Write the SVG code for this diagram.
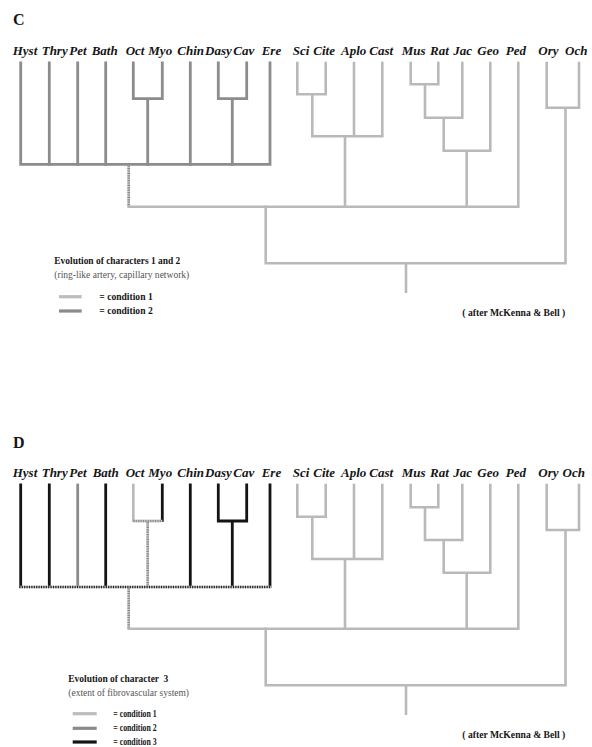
<svg xmlns="http://www.w3.org/2000/svg" width="592" height="747" viewBox="0 0 592 747">
<style>
  .bg{fill:#ffffff}
  .tax{font-family:"Liberation Serif","Times New Roman",serif;font-size:13px;font-weight:bold;font-style:italic;fill:#151515}
  .panel{font-family:"Liberation Serif","Times New Roman",serif;font-size:16px;font-weight:bold;fill:#151515}
  .lgt{font-family:"Liberation Serif","Times New Roman",serif;font-size:9.5px;font-weight:bold;fill:#151515;white-space:pre}
  .lgs{font-family:"Liberation Serif","Times New Roman",serif;font-size:9.5px;fill:#555555}
  .c1{fill:none;stroke:#b9b9b9;stroke-width:2.6;stroke-linejoin:miter;stroke-linecap:square}
  .c2{fill:none;stroke:#8c8c8c;stroke-width:2.8;stroke-linejoin:miter;stroke-linecap:square}
  .c3{fill:none;stroke:#141414;stroke-width:2.8;stroke-linejoin:miter;stroke-linecap:square}
  .hb{fill:none;stroke:#c8c8c8;stroke-width:2.6;stroke-linecap:butt}
  .hd{fill:none;stroke:#8a8a8a;stroke-width:2.6;stroke-dasharray:1.2 1.2;stroke-linecap:butt}
  .hk{fill:none;stroke:#222222;stroke-width:2.6;stroke-dasharray:1.2 1.2;stroke-linecap:butt}
  .key{stroke-width:3.2;stroke-linecap:butt}
</style>
<rect class="bg" x="0" y="0" width="592" height="747"/>

<!-- ===================== PANEL C ===================== -->
<g id="panelC">
  <text id="labelC" class="panel" x="13" y="25">C</text>

  <g id="C-taxa">
    <g id="C-Hyst"><text class="tax" x="12.7" y="55">Hyst</text></g>
    <g id="C-Thry"><text class="tax" x="41.7" y="55">Thry</text></g>
    <g id="C-Pet"><text class="tax" x="69.3" y="55">Pet</text></g>
    <g id="C-Bath"><text class="tax" x="91.7" y="55">Bath</text></g>
    <g id="C-Oct"><text class="tax" x="125.7" y="55">Oct</text></g>
    <g id="C-Myo"><text class="tax" x="148.3" y="55">Myo</text></g>
    <g id="C-Chin"><text class="tax" x="177.3" y="55">Chin</text></g>
    <g id="C-Dasy"><text class="tax" x="205" y="55">Dasy</text></g>
    <g id="C-Cav"><text class="tax" x="233.3" y="55">Cav</text></g>
    <g id="C-Ere"><text class="tax" x="261.7" y="55">Ere</text></g>
    <g id="C-Sci"><text class="tax" x="292.7" y="55">Sci</text></g>
    <g id="C-Cite"><text class="tax" x="313.3" y="55">Cite</text></g>
    <g id="C-Aplo"><text class="tax" x="341" y="55">Aplo</text></g>
    <g id="C-Cast"><text class="tax" x="369.3" y="55">Cast</text></g>
    <g id="C-Mus"><text class="tax" x="401.7" y="55">Mus</text></g>
    <g id="C-Rat"><text class="tax" x="430" y="55">Rat</text></g>
    <g id="C-Jac"><text class="tax" x="453.3" y="55">Jac</text></g>
    <g id="C-Geo"><text class="tax" x="477.3" y="55">Geo</text></g>
    <g id="C-Ped"><text class="tax" x="505.7" y="55">Ped</text></g>
    <g id="C-Ory"><text class="tax" x="538.3" y="55">Ory</text></g>
    <g id="C-Och"><text class="tax" x="565" y="55">Och</text></g>
  </g>

  <g id="C-connectors">
    <!-- ingroup: condition 2 -->
    <path class="c2" d="M20.7,63 V164.3 H270 V63"/>
    <path class="c2" d="M49.3,63 V164.3 M77.7,63 V164.3 M105.7,63 V164.3 M190.3,63 V164.3"/>
    <path class="c2" d="M133.3,63 V98.7 H162.3 V63 M147.7,98.7 V164.3"/>
    <path class="c2" d="M218.3,63 V98.7 H246.7 V63 M232.3,98.7 V164.3"/>
    <!-- hatched stem -->
    <path class="hb" d="M128.7,165.6 V206.7"/>
    <path class="hd" d="M128.7,165.6 V206.7"/>
    <!-- outgroups: condition 1 -->
    <path class="c1" d="M297.3,63 V94.3 H325.7 V63 M312.3,94.3 V136.3 H382.3 V63 M354,63 V136.3 M345,136.3 V206.7"/>
    <path class="c1" d="M410.7,63 V84.3 H438.3 V63 M425,84.3 V117.7 H462.3 V63 M443.7,117.7 V150.7 H490.3 V63 M466.7,150.7 V206.7"/>
    <path class="c1" d="M128.7,206.7 H518.3 V63"/>
    <path class="c1" d="M265.7,206.7 V263.3 H565.5 V107.7 M546.7,63 V107.7 H579 V63"/>
    <path class="c1" d="M406,263.3 V291.7"/>
  </g>

  <g id="C-legend">
    <text class="lgt" x="54.3" y="264" textLength="126" lengthAdjust="spacingAndGlyphs">Evolution of characters 1 and 2</text>
    <text class="lgs" x="54.3" y="278.3" textLength="135" lengthAdjust="spacingAndGlyphs">(ring-like artery, capillary network)</text>
    <line class="key" x1="59" y1="296.7" x2="81.7" y2="296.7" stroke="#bdbdbd"/>
    <text class="lgt" x="99.3" y="299.6" textLength="53.4" lengthAdjust="spacingAndGlyphs">= condition 1</text>
    <line class="key" x1="59" y1="311" x2="81.7" y2="311" stroke="#8a8a8a"/>
    <text class="lgt" x="99.3" y="314" textLength="53.4" lengthAdjust="spacingAndGlyphs">= condition 2</text>
    <text class="lgt" x="462.3" y="316" textLength="103" lengthAdjust="spacingAndGlyphs">( after McKenna &amp; Bell )</text>
  </g>
</g>

<!-- ===================== PANEL D ===================== -->
<g id="panelD">
  <text id="labelD" class="panel" x="13" y="448">D</text>

  <g id="D-taxa">
    <g id="D-Hyst"><text class="tax" x="12.7" y="477">Hyst</text></g>
    <g id="D-Thry"><text class="tax" x="41.7" y="477">Thry</text></g>
    <g id="D-Pet"><text class="tax" x="69.3" y="477">Pet</text></g>
    <g id="D-Bath"><text class="tax" x="92.7" y="477">Bath</text></g>
    <g id="D-Oct"><text class="tax" x="125.7" y="477">Oct</text></g>
    <g id="D-Myo"><text class="tax" x="148.3" y="477">Myo</text></g>
    <g id="D-Chin"><text class="tax" x="177.3" y="477">Chin</text></g>
    <g id="D-Dasy"><text class="tax" x="205" y="477">Dasy</text></g>
    <g id="D-Cav"><text class="tax" x="233.3" y="477">Cav</text></g>
    <g id="D-Ere"><text class="tax" x="261.7" y="477">Ere</text></g>
    <g id="D-Sci"><text class="tax" x="292.7" y="477">Sci</text></g>
    <g id="D-Cite"><text class="tax" x="313.3" y="477">Cite</text></g>
    <g id="D-Aplo"><text class="tax" x="341" y="477">Aplo</text></g>
    <g id="D-Cast"><text class="tax" x="369.3" y="477">Cast</text></g>
    <g id="D-Mus"><text class="tax" x="401.7" y="477">Mus</text></g>
    <g id="D-Rat"><text class="tax" x="430" y="477">Rat</text></g>
    <g id="D-Jac"><text class="tax" x="453.3" y="477">Jac</text></g>
    <g id="D-Geo"><text class="tax" x="477.3" y="477">Geo</text></g>
    <g id="D-Ped"><text class="tax" x="505.7" y="477">Ped</text></g>
    <g id="D-Ory"><text class="tax" x="538.3" y="477">Ory</text></g>
    <g id="D-Och"><text class="tax" x="562.5" y="477">Och</text></g>
  </g>

  <g id="D-connectors">
    <!-- ingroup terminal branches -->
    <path class="c3" d="M20.7,485 V586.3 M49.3,485 V586.3 M105.7,485 V586.3 M190.3,485 V586.3 M270,485 V586.3"/>
    <path class="c2" d="M77.7,485 V586.3"/>
    <path class="c1" d="M133.3,485 V520.5"/>
    <path class="c3" d="M162.3,485 V520.5"/>
    <path class="c3" d="M218.3,485 V521 H246.7 V485 M232.3,521 V586.3"/>
    <!-- hatched Oct-Myo node and stem -->
    <path class="hb" d="M133.3,521 H162.3 M147.7,522 V586"/>
    <path class="hd" d="M133.3,521 H162.3 M147.7,522 V586"/>
    <!-- hatched ingroup base -->
    <path class="hb" d="M19.3,587 H271.4" stroke="#8c8c8c"/>
    <path class="hk" d="M19.3,587 H271.4"/>
    <!-- hatched stem -->
    <path class="hb" d="M128.7,588.3 V628.7"/>
    <path class="hd" d="M128.7,588.3 V628.7"/>
    <!-- outgroups: condition 1 -->
    <path class="c1" d="M297.3,485 V516.7 H325.7 V485 M312.3,516.7 V559 H382.3 V485 M354,485 V559 M345,559 V628.7"/>
    <path class="c1" d="M410.7,485 V507.3 H438.3 V485 M425,507.3 V540 H462.3 V485 M443.7,540 V572.7 H490.3 V485 M466.7,572.7 V628.7"/>
    <path class="c1" d="M128.7,628.7 H518.3 V485"/>
    <path class="c1" d="M265.7,628.7 V685.3 H565.5 V530 M546.7,485 V530 H579 V485"/>
    <path class="c1" d="M406,685.3 V713.7"/>
  </g>

  <g id="D-legend">
    <text class="lgt" x="68.3" y="681.5" textLength="100" lengthAdjust="spacingAndGlyphs">Evolution of character  3</text>
    <text class="lgs" x="68.3" y="696" textLength="120.7" lengthAdjust="spacingAndGlyphs">(extent of fibrovascular system)</text>
    <line class="key" x1="72.7" y1="713.7" x2="96.7" y2="713.7" stroke="#bdbdbd"/>
    <text class="lgt" x="113.3" y="716.6" textLength="43.4" lengthAdjust="spacingAndGlyphs">= condition 1</text>
    <line class="key" x1="72.7" y1="728.3" x2="96.7" y2="728.3" stroke="#8a8a8a"/>
    <text class="lgt" x="113.3" y="731.2" textLength="43.4" lengthAdjust="spacingAndGlyphs">= condition 2</text>
    <line class="key" x1="72.7" y1="742" x2="96.7" y2="742" stroke="#141414"/>
    <text class="lgt" x="113.3" y="744.9" textLength="43.4" lengthAdjust="spacingAndGlyphs">= condition 3</text>
    <text class="lgt" x="462.3" y="738" textLength="103" lengthAdjust="spacingAndGlyphs">( after McKenna &amp; Bell )</text>
  </g>
</g>
</svg>
